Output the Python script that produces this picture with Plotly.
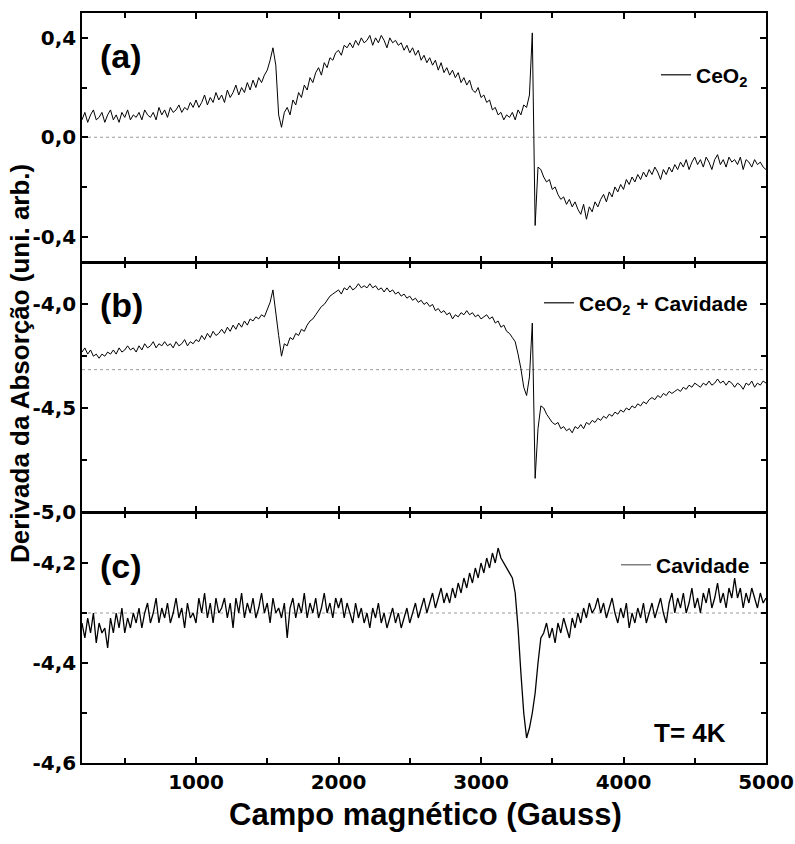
import plotly.graph_objects as go
from plotly.subplots import make_subplots

# ---------------- data ----------------
field = list(range(200, 5001, 20))  # Gauss, sampling grid

ceo2 = [
    0.07, 0.10, 0.06, 0.09, 0.11, 0.07, 0.08, 0.10, 0.06, 0.09,
    0.11, 0.07, 0.09, 0.06, 0.10, 0.08, 0.11, 0.07, 0.09, 0.08,
    0.10, 0.07, 0.11, 0.09, 0.08, 0.10, 0.07, 0.12, 0.09, 0.11,
    0.08, 0.12, 0.10, 0.11, 0.13, 0.10, 0.12, 0.11, 0.14, 0.12,
    0.15, 0.12, 0.14, 0.17, 0.13, 0.16, 0.14, 0.18, 0.15, 0.17,
    0.14, 0.19, 0.16, 0.18, 0.21, 0.17, 0.20, 0.18, 0.22, 0.19,
    0.23, 0.20, 0.24, 0.22, 0.25, 0.27, 0.31, 0.36, 0.29, 0.09,
    0.04, 0.10, 0.12, 0.09, 0.15, 0.13, 0.18, 0.16, 0.21, 0.19,
    0.24, 0.22, 0.26, 0.28, 0.25, 0.30, 0.28, 0.32, 0.31, 0.34,
    0.35, 0.33, 0.37, 0.36, 0.38, 0.36, 0.39, 0.37, 0.40, 0.38,
    0.39, 0.41, 0.37, 0.40, 0.38, 0.41, 0.39, 0.36, 0.40, 0.38,
    0.39, 0.37, 0.38, 0.35, 0.37, 0.34, 0.36, 0.33, 0.35, 0.31,
    0.33, 0.30, 0.32, 0.29, 0.31, 0.27, 0.30, 0.26, 0.28, 0.25,
    0.27, 0.24, 0.26, 0.22, 0.24, 0.21, 0.23, 0.19, 0.18, 0.20,
    0.16, 0.17, 0.14, 0.15, 0.11, 0.12, 0.09, 0.10, 0.07, 0.09,
    0.08, 0.10, 0.07, 0.11, 0.09, 0.13, 0.12, 0.17, 0.42, -0.355,
    -0.12, -0.13, -0.16, -0.18, -0.17, -0.21, -0.20, -0.23, -0.25, -0.24,
    -0.27, -0.25, -0.28, -0.26, -0.29, -0.31, -0.27, -0.33, -0.28, -0.30,
    -0.26, -0.28, -0.25, -0.23, -0.26, -0.22, -0.24, -0.20, -0.22, -0.19,
    -0.21, -0.17, -0.19, -0.16, -0.18, -0.15, -0.17, -0.14, -0.16, -0.13,
    -0.15, -0.12, -0.14, -0.17, -0.13, -0.15, -0.12, -0.14, -0.11, -0.13,
    -0.10, -0.12, -0.09, -0.13, -0.10, -0.08, -0.11, -0.09, -0.12, -0.08,
    -0.10, -0.13, -0.09, -0.07, -0.11, -0.09, -0.12, -0.08, -0.10, -0.09,
    -0.11, -0.08, -0.13, -0.09, -0.10, -0.12, -0.09, -0.11, -0.10, -0.12,
    -0.13,
]

ceo2_cavidade = [
    -4.23, -4.21, -4.24, -4.22, -4.25, -4.24, -4.26, -4.24, -4.25, -4.23,
    -4.24, -4.22, -4.24, -4.21, -4.23, -4.22, -4.20, -4.22, -4.21, -4.23,
    -4.20, -4.22, -4.19, -4.21, -4.20, -4.18, -4.21, -4.19, -4.20, -4.18,
    -4.20, -4.19, -4.21, -4.18, -4.20, -4.19, -4.17, -4.20, -4.18, -4.19,
    -4.17, -4.18, -4.15, -4.17, -4.14, -4.16, -4.13, -4.15, -4.14, -4.12,
    -4.14, -4.11, -4.13, -4.10, -4.12, -4.09, -4.11, -4.08, -4.10, -4.07,
    -4.08, -4.06, -4.07, -4.05, -4.06, -4.02, -3.99, -3.93, -4.05, -4.15,
    -4.25, -4.19, -4.20, -4.16, -4.17, -4.14, -4.15, -4.12, -4.13, -4.10,
    -4.08, -4.07, -4.05, -4.03, -4.01, -4.00, -3.98, -3.96, -3.95, -3.94,
    -3.93, -3.95, -3.92, -3.93, -3.91, -3.93, -3.92, -3.90, -3.92, -3.91,
    -3.92, -3.90, -3.92, -3.91, -3.93, -3.92, -3.94, -3.92, -3.94, -3.93,
    -3.95, -3.94, -3.96, -3.95, -3.97, -3.96, -3.98, -3.97, -3.99, -3.98,
    -4.00, -3.99, -4.01, -4.00, -4.03, -4.02, -4.04, -4.03, -4.05, -4.04,
    -4.07, -4.05, -4.06, -4.04, -4.05, -4.03, -4.05, -4.04, -4.06, -4.05,
    -4.07, -4.06, -4.05, -4.07, -4.06, -4.09, -4.08, -4.11, -4.10, -4.13,
    -4.14, -4.16, -4.18, -4.24, -4.31, -4.40, -4.44, -4.35, -4.09, -4.84,
    -4.60, -4.49, -4.50, -4.53, -4.55, -4.57, -4.58, -4.57, -4.60, -4.59,
    -4.61, -4.60, -4.62, -4.59, -4.60, -4.58, -4.60, -4.57, -4.58, -4.56,
    -4.57, -4.55, -4.56, -4.54, -4.55, -4.53, -4.54, -4.52, -4.53, -4.51,
    -4.52, -4.50, -4.51, -4.49, -4.50, -4.48, -4.49, -4.47, -4.48, -4.46,
    -4.45, -4.46, -4.44, -4.45, -4.43, -4.44, -4.42, -4.43, -4.42, -4.41,
    -4.42, -4.40, -4.41, -4.39, -4.40, -4.38, -4.39, -4.40, -4.38, -4.39,
    -4.37, -4.39, -4.38, -4.36, -4.38, -4.37, -4.39, -4.37, -4.38, -4.40,
    -4.38, -4.39, -4.41, -4.38, -4.39, -4.37, -4.40, -4.38, -4.39, -4.37,
    -4.38,
]

cavidade = [
    -4.32, -4.35, -4.31, -4.34, -4.30, -4.36, -4.32, -4.34, -4.33, -4.37,
    -4.31, -4.34, -4.30, -4.33, -4.29, -4.34, -4.31, -4.33, -4.30, -4.32,
    -4.29, -4.33, -4.30, -4.28, -4.32, -4.30, -4.27, -4.32, -4.29, -4.31,
    -4.28, -4.32, -4.30, -4.27, -4.31, -4.29, -4.33, -4.28, -4.31, -4.30,
    -4.32, -4.27, -4.30, -4.26, -4.31, -4.28, -4.32, -4.27, -4.30, -4.29,
    -4.27, -4.31, -4.28, -4.33, -4.27, -4.30, -4.26, -4.31, -4.28, -4.30,
    -4.27, -4.31, -4.29, -4.26, -4.30, -4.28, -4.32, -4.27, -4.30, -4.29,
    -4.31, -4.28, -4.35, -4.29, -4.27, -4.31, -4.28, -4.30, -4.26, -4.31,
    -4.28, -4.30, -4.27, -4.31, -4.29, -4.26, -4.30, -4.28, -4.31, -4.27,
    -4.29, -4.27, -4.31, -4.28, -4.30, -4.32, -4.28, -4.31, -4.29, -4.32,
    -4.30, -4.33, -4.29, -4.31, -4.28, -4.32, -4.30, -4.33, -4.31, -4.29,
    -4.32, -4.30, -4.33, -4.31, -4.29, -4.32, -4.30, -4.28, -4.31, -4.29,
    -4.27, -4.30, -4.28, -4.26, -4.29, -4.27, -4.25, -4.28, -4.26, -4.28,
    -4.25, -4.27, -4.24, -4.26, -4.23, -4.25, -4.22, -4.24, -4.21, -4.23,
    -4.20, -4.22, -4.19, -4.21, -4.18, -4.20, -4.17, -4.19, -4.20, -4.21,
    -4.22, -4.23, -4.26, -4.33, -4.42, -4.50, -4.55, -4.53, -4.50, -4.46,
    -4.40, -4.35, -4.34, -4.32, -4.35, -4.33, -4.36, -4.32, -4.34, -4.31,
    -4.33, -4.35, -4.31, -4.33, -4.30, -4.32, -4.29, -4.31, -4.28, -4.30,
    -4.29, -4.27, -4.30, -4.28, -4.31, -4.29, -4.27, -4.30, -4.32, -4.29,
    -4.31, -4.28, -4.33, -4.30, -4.32, -4.29, -4.31, -4.28, -4.32, -4.30,
    -4.28, -4.31, -4.29, -4.27, -4.30, -4.32, -4.28, -4.26, -4.30, -4.27,
    -4.29, -4.26, -4.30, -4.28, -4.25, -4.29, -4.27, -4.30, -4.26, -4.28,
    -4.25, -4.29, -4.27, -4.24, -4.28, -4.26, -4.29, -4.25, -4.27, -4.23,
    -4.27, -4.25, -4.29, -4.26, -4.28, -4.25, -4.27, -4.29, -4.26, -4.28,
    -4.27,
]

series_names = ["CeO<sub>2</sub>", "CeO<sub>2</sub> + Cavidade", "Cavidade"]
panel_labels = ["(a)", "(b)", "(c)"]
baselines = [0.0, -4.315, -4.30]

x_ticks = [1000, 2000, 3000, 4000, 5000]
x_labels = ["1000", "2000", "3000", "4000", "5000"]
x_minor = [500, 1500, 2500, 3500, 4500]

ya_ticks = [-0.4, 0.0, 0.4]
ya_labels = ["-0,4", "0,0", "0,4"]
ya_minor = [-0.2, 0.2]
yb_ticks = [-5.0, -4.5, -4.0]
yb_labels = ["-5,0", "-4,5", "-4,0"]
yb_minor = [-4.75, -4.25]
yc_ticks = [-4.6, -4.4, -4.2]
yc_labels = ["-4,6", "-4,4", "-4,2"]
yc_minor = [-4.5, -4.3]

x_title = "Campo magnético (Gauss)"
y_title = "Derivada da Absorção (uni. arb.)"
temp_label = "T= 4K"

# ---------------- figure ----------------
W, H = 795, 844
ML, MR, MT, MB = 82, 29, 13, 81
PW, PH = W - ML - MR, H - MT - MB
LW = 1.5


def px_x(p):
    return (p - ML) / PW


def px_y(p):
    return (H - MB - p) / PH


fig = make_subplots(rows=3, cols=1, shared_xaxes=True, vertical_spacing=0)

series = [ceo2, ceo2_cavidade, cavidade]
legends = ["legend", "legend2", "legend3"]
widths = [1.0, 1.0, 1.3]
legend_colors = ["#3a3a3a", "#3a3a3a", "#808080"]
for i in range(3):
    fig.add_trace(
        go.Scatter(
            x=field, y=series[i], mode="lines",
            line=dict(color="black", width=widths[i]),
            name=series_names[i], showlegend=False,
        ),
        row=i + 1, col=1,
    )
    # legend-only entry (sample line drawn in grey as in the original)
    fig.add_trace(
        go.Scatter(
            x=[None], y=[None], mode="lines",
            line=dict(color=legend_colors[i], width=1.5),
            name=series_names[i], legend=legends[i], showlegend=True,
        ),
        row=i + 1, col=1,
    )
    fig.add_hline(y=baselines[i], line=dict(color="#9a9a9a", width=1, dash="dot"),
                  layer="below", row=i + 1, col=1)

tickfont = dict(family="DejaVu Sans", size=20, color="black", weight="bold")
common = dict(
    showline=True, linecolor="black", linewidth=LW, mirror="ticks",
    ticks="inside", ticklen=6, tickwidth=1.5, tickcolor="black",
    showgrid=False, zeroline=False, tickfont=tickfont, automargin=False,
)


def minor(vals):
    return dict(tickmode="array", tickvals=vals, ticks="inside", ticklen=5,
                tickwidth=1.5, tickcolor="black", showgrid=False)


for r in range(1, 4):
    fig.update_xaxes(range=[200, 5000], tickmode="array", tickvals=x_ticks,
                     ticktext=x_labels, minor=minor(x_minor),
                     showticklabels=(r == 3), row=r, col=1, **common)

yspec = [
    ([-0.5, 0.5], ya_ticks, ya_labels, ya_minor),
    ([-5.0, -3.8], yb_ticks, yb_labels, yb_minor),
    ([-4.6, -4.1], yc_ticks, yc_labels, yc_minor),
]
for r, (rng, tv, tt, mv) in enumerate(yspec, start=1):
    fig.update_yaxes(range=rng, tickmode="array", tickvals=tv, ticktext=tt,
                     minor=minor(mv), row=r, col=1, **common)

# shift the panel borders so touching axis lines overlap exactly
fig.update_layout(
    yaxis=dict(domain=[px_y(263 - LW), 1.0]),
    yaxis2=dict(domain=[px_y(513 - LW), px_y(263)]),
    yaxis3=dict(domain=[0.0, px_y(513)]),
)

legfont = dict(family="Liberation Sans", size=21, color="black", weight="bold")
leg_common = dict(xanchor="right", yanchor="middle", bgcolor="rgba(0,0,0,0)",
                  font=legfont, itemwidth=30, borderwidth=0)

lab_font = dict(family="Liberation Sans", size=34, color="black", weight="bold")
label_y = [56, 305, 566]
annotations = []
for i in range(3):
    annotations.append(dict(text=panel_labels[i], xref="paper", yref="paper",
                            x=px_x(98), y=px_y(label_y[i]), xanchor="left",
                            yanchor="middle", showarrow=False, font=lab_font))
annotations.append(dict(text=temp_label, xref="paper", yref="paper",
                        x=px_x(728), y=px_y(733), xanchor="right", yanchor="middle",
                        showarrow=False,
                        font=dict(family="Liberation Sans", size=26, color="black", weight="bold")))
annotations.append(dict(text=y_title, xref="paper", yref="paper", textangle=-90,
                        x=px_x(20), y=px_y(364), xanchor="center", yanchor="middle",
                        showarrow=False,
                        font=dict(family="Liberation Sans", size=26, color="black", weight="bold")))
annotations.append(dict(text=x_title, xref="paper", yref="paper",
                        x=px_x(425), y=px_y(815), xanchor="center", yanchor="middle",
                        showarrow=False,
                        font=dict(family="Liberation Sans", size=31, color="black", weight="bold")))

fig.update_layout(
    width=W, height=H,
    margin=dict(l=ML, r=MR, t=MT, b=MB, autoexpand=False),
    paper_bgcolor="white", plot_bgcolor="white",
    legend=dict(x=px_x(753), y=px_y(75), **leg_common),
    legend2=dict(x=px_x(753), y=px_y(303), **leg_common),
    legend3=dict(x=px_x(755), y=px_y(565), **leg_common),
    annotations=annotations,
)

fig.write_html("out.html")
